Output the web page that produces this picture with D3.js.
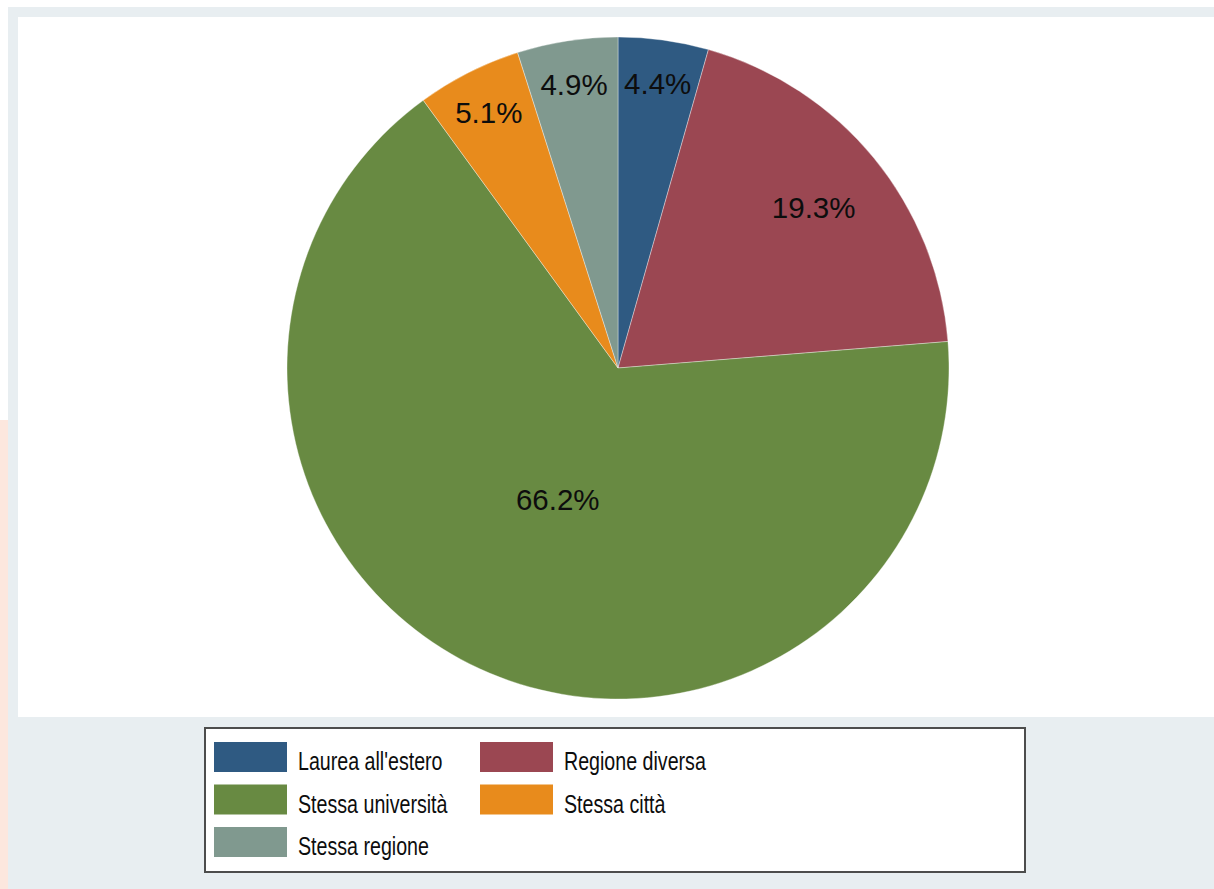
<!DOCTYPE html>
<html>
<head>
<meta charset="utf-8">
<script src="https://cdn.jsdelivr.net/npm/d3@7/dist/d3.min.js"></script>
<style>
  html, body { margin: 0; padding: 0; background: #ffffff; }
  svg { display: block; }
</style>
</head>
<body>
<script>
// Provenienza della laurea: categorie, quote percentuali e colori
const categories = ["Laurea all'estero", "Regione diversa", "Stessa università", "Stessa città", "Stessa regione"];
const shares = [4.4, 19.3, 66.2, 5.1, 4.9];
const sliceColors = ["#2f5a82", "#9b4752", "#688a42", "#e88b1c", "#80998f"];
// Ordine delle voci in legenda (due colonne, riga per riga)
const legendOrder = ["Laurea all'estero", "Regione diversa", "Stessa università", "Stessa città", "Stessa regione"];

const W = 1214, H = 889;
const svg = d3.select("body").append("svg").attr("width", W).attr("height", H);

// Sfondi: cornice esterna e regione del grafico
svg.append("rect").attr("x", 0).attr("y", 0).attr("width", W).attr("height", H).attr("fill", "#ffffff");
svg.append("rect").attr("x", 8).attr("y", 7).attr("width", W - 8).attr("height", H - 7).attr("fill", "#e8eef1");
svg.append("rect").attr("x", 0).attr("y", 420).attr("width", 8).attr("height", H - 420).attr("fill", "#fce7de");
svg.append("rect").attr("x", 18).attr("y", 17).attr("width", W - 18).attr("height", 700).attr("fill", "#ffffff");

// Torta
const cx = 618, cy = 368, radius = 331;
const color = d3.scaleOrdinal().domain(categories).range(sliceColors);
const data = categories.map((c, i) => ({ cat: c, value: shares[i] }));
const total = d3.sum(shares);

const pie = d3.pie().value(d => d.value).sort(null).startAngle(0).endAngle(2 * Math.PI);
const arcs = pie(data);
const arc = d3.arc().innerRadius(0).outerRadius(radius);

const g = svg.append("g").attr("transform", `translate(${cx},${cy})`);
g.selectAll("path.slice")
  .data(arcs)
  .enter().append("path")
  .attr("class", "slice")
  .attr("d", arc)
  .attr("fill", d => color(d.data.cat))
  .attr("stroke", "#ffffff")
  .attr("stroke-opacity", 0.45)
  .attr("stroke-width", 0.8);

// Etichette percentuali: spicchi piccoli verso il bordo, grandi verso il centro
g.selectAll("text.plabel")
  .data(arcs)
  .enter().append("text")
  .attr("class", "plabel")
  .each(function (d) {
    const frac = d.data.value / total;
    const rl = radius * (0.9 - 0.7 * frac);
    const a = (d.startAngle + d.endAngle) / 2;
    d3.select(this)
      .attr("x", rl * Math.sin(a))
      .attr("y", -rl * Math.cos(a));
  })
  .attr("text-anchor", "middle")
  .attr("dy", "0.36em")
  .attr("font-family", "'Liberation Sans', Arial, Helvetica, sans-serif")
  .attr("font-size", 29.5)
  .attr("fill", "#0d0d0d")
  .text(d => d3.format(".1f")(d.data.value) + "%");

// Legenda
const lg = { x: 205, y: 728, w: 820, h: 144 };
svg.append("rect")
  .attr("x", lg.x).attr("y", lg.y).attr("width", lg.w).attr("height", lg.h)
  .attr("fill", "#ffffff").attr("stroke", "#4d4d4d").attr("stroke-width", 2);

const colX = d3.scaleOrdinal().domain([0, 1]).range([lg.x + 9, lg.x + 275]);
const rowY = d3.scaleLinear().domain([0, 1]).range([lg.y + 29, lg.y + 71.5]);
const items = svg.append("g").selectAll("g.item")
  .data(legendOrder)
  .enter().append("g")
  .attr("class", "item")
  .attr("transform", (d, i) => `translate(${colX(i % 2)},${rowY(Math.floor(i / 2))})`);

items.append("rect")
  .attr("x", 0).attr("y", -15).attr("width", 73).attr("height", 30)
  .attr("fill", d => color(d));

items.append("text")
  .attr("transform", "translate(84,13) scale(0.77,1)")
  .attr("font-family", "'Liberation Sans', Arial, Helvetica, sans-serif")
  .attr("font-size", 25.5)
  .attr("fill", "#0d0d0d")
  .text(d => d);
</script>
</body>
</html>
